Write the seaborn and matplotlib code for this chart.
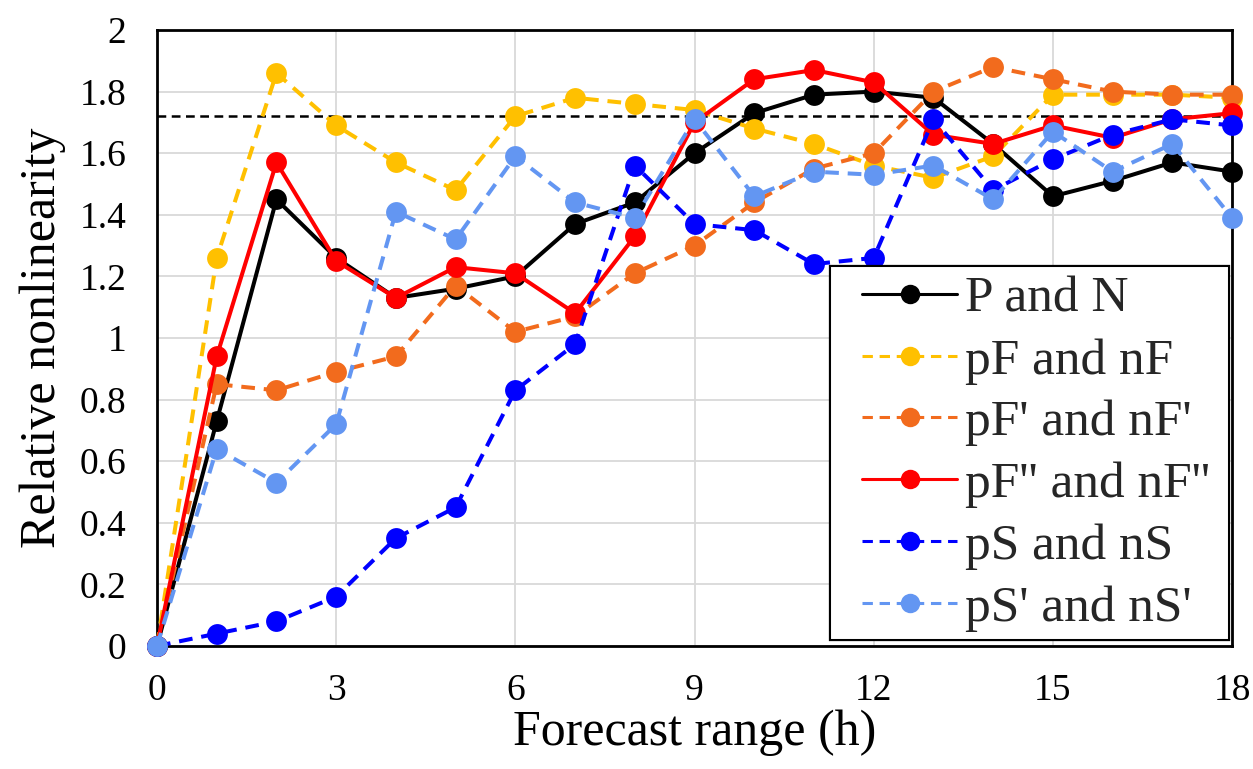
import matplotlib
matplotlib.use("Agg")
import matplotlib.pyplot as plt
import matplotlib.patheffects as pe
from matplotlib.patches import Rectangle
import seaborn as sns

# Forecast hours and relative nonlinearity of each perturbation pair
hours = list(range(19))
p_n = [0, 0.73, 1.45, 1.26, 1.13, 1.16, 1.20, 1.37, 1.44, 1.60, 1.73, 1.79, 1.80, 1.78, 1.63, 1.46, 1.51, 1.57, 1.54]
pf_nf = [0, 1.26, 1.86, 1.69, 1.57, 1.48, 1.72, 1.78, 1.76, 1.74, 1.68, 1.63, 1.56, 1.52, 1.59, 1.79, 1.79, 1.79, 1.78]
pf1_nf1 = [0, 0.85, 0.83, 0.89, 0.94, 1.17, 1.02, 1.07, 1.21, 1.30, 1.44, 1.55, 1.60, 1.80, 1.88, 1.84, 1.80, 1.79, 1.79]
pf2_nf2 = [0, 0.94, 1.57, 1.25, 1.13, 1.23, 1.21, 1.08, 1.33, 1.70, 1.84, 1.87, 1.83, 1.66, 1.63, 1.69, 1.65, 1.71, 1.73]
ps_ns = [0, 0.04, 0.08, 0.16, 0.35, 0.45, 0.83, 0.98, 1.56, 1.37, 1.35, 1.24, 1.26, 1.71, 1.48, 1.58, 1.66, 1.71, 1.69]
ps1_ns1 = [0, 0.64, 0.53, 0.72, 1.41, 1.32, 1.59, 1.44, 1.39, 1.71, 1.46, 1.54, 1.53, 1.56, 1.45, 1.67, 1.54, 1.63, 1.39]
reference_level = 1.72

labels = ["P and N", "pF and nF", "pF' and nF'", "pF'' and nF''", "pS and nS", "pS' and nS'"]
series = [p_n, pf_nf, pf1_nf1, pf2_nf2, ps_ns, ps1_ns1]
colors = ["#000000", "#FFC000", "#F26B1D", "#FF0000", "#0000FF", "#6396F2"]
dash = (0, (3.4, 2.2))
styles = ["-", dash, dash, "-", dash, dash]

x_ticks = [0, 3, 6, 9, 12, 15, 18]
y_ticks = [0, 0.2, 0.4, 0.6, 0.8, 1.0, 1.2, 1.4, 1.6, 1.8, 2.0]
y_tick_labels = ["0", "0.2", "0.4", "0.6", "0.8", "1", "1.2", "1.4", "1.6", "1.8", "2"]

sns.set_theme(style="white")
plt.rcParams["font.family"] = ["Liberation Serif", "DejaVu Serif"]

fig = plt.figure(figsize=(12.53, 7.69), dpi=100)
ax = fig.add_axes([0.1253, 0.160, 0.858, 0.801])

for vals, lab, col, ls in zip(series, labels, colors, styles):
    sns.lineplot(x=hours, y=vals, ax=ax, color=col, linestyle=ls, linewidth=2.9,
                 marker="o", markersize=15, markeredgewidth=0, label=lab,
                 clip_on=False, zorder=3)

ax.axhline(reference_level, color="black", linewidth=1.8, linestyle=(0, (3.5, 2.2)), zorder=1.5)

ax.set_xlim(0, 18)
ax.set_ylim(0, 2)
ax.set_xticks(x_ticks)
ax.set_yticks(y_ticks)
ax.set_yticklabels(y_tick_labels)
ax.grid(True, color="#d9d9d9", linewidth=1.3)
ax.set_axisbelow(True)
for s in ax.spines.values():
    s.set_color("black")
    s.set_linewidth(2.0)
    s.set_zorder(2.5)
ax.tick_params(axis="both", which="both", length=0, labelsize=27, colors="black")
ax.tick_params(axis="y", pad=22)
ax.tick_params(axis="x", pad=20)

ax.set_xlabel("Forecast range (h)", fontsize=36, color="black")
ax.set_ylabel("Relative nonlinearity", fontsize=36, color="black")
ax.xaxis.set_label_coords(0.5, -0.103)
ax.yaxis.set_label_coords(-0.085, 0.5)

# Legend box with a double border
box = Rectangle((0.628, 0.013), 0.367, 0.601, transform=ax.transAxes,
                facecolor="white", edgecolor="black", linewidth=1.0, zorder=4.9)
box.set_path_effects([pe.Stroke(linewidth=4.5, foreground="black"),
                      pe.Stroke(linewidth=1.4, foreground="white")])
ax.add_patch(box)

leg = ax.legend(loc="upper left", bbox_to_anchor=(0.656, 0.601), borderaxespad=0,
                fontsize=37, frameon=False, handlelength=1.85,
                handletextpad=0.15, labelspacing=0.29, borderpad=0)
leg.set_zorder(5)
for h in leg.legend_handles:
    h.set_linewidth(2.2)
    h.set_markersize(14)

fig.savefig("out.png", dpi=100, facecolor="white")
